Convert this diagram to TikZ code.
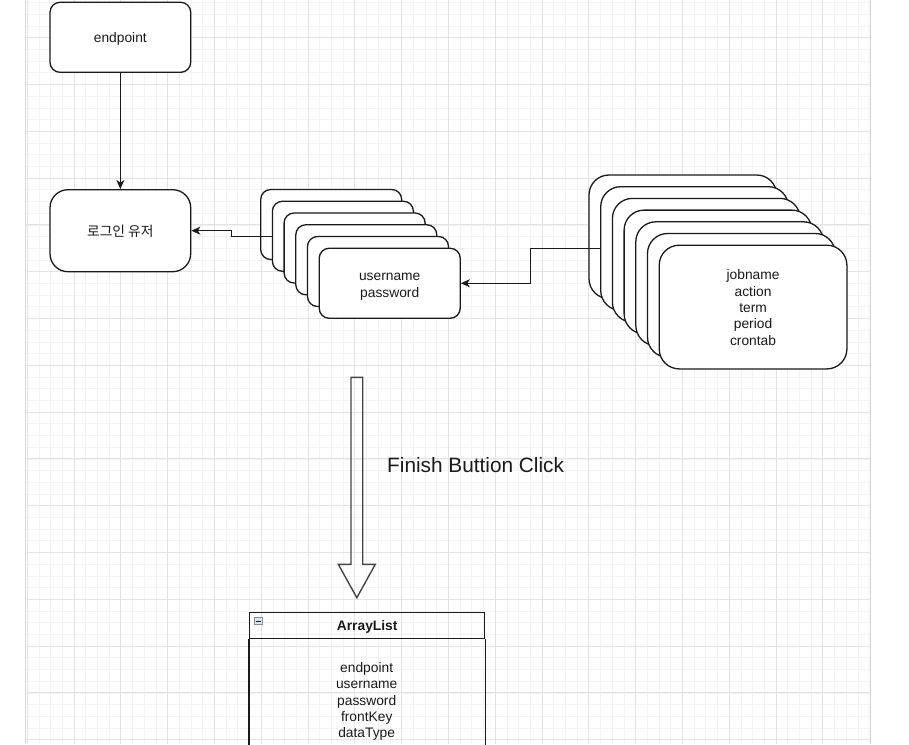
\documentclass[tikz,border=0pt]{standalone}
\usepackage{fontspec}
\setmainfont{Liberation Sans}
\newfontfamily\krfont{Noto Sans CJK KR}
\usetikzlibrary{arrows.meta}
\definecolor{gminor}{HTML}{F3F3F3}
\definecolor{gmajor}{HTML}{E3E3E3}
\definecolor{gborder}{HTML}{D8D8D8}
\definecolor{ink}{HTML}{1A1A1A}
\definecolor{bigarrow}{HTML}{444444}
\definecolor{iconfill}{HTML}{DCE3EA}
\definecolor{iconline}{HTML}{7F8FA0}
\begin{document}
\begin{tikzpicture}[x=1pt,y=-1pt,
  box/.style={draw=ink, line width=1.3pt, fill=white, rounded corners=10pt, text=ink,
    font=\fontsize{13.8}{16.4}\selectfont, align=center, inner sep=0pt},
  arr/.style={draw=ink, line width=1.1pt, -{Stealth[length=9pt,width=8pt,inset=2.5pt]}},
  txt/.style={text=ink, font=\fontsize{13.8}{16.4}\selectfont, align=center, inner sep=0pt}]
\useasboundingbox (0,0) rectangle (909,744);
% grid
\foreach \i in {0,...,72}{\draw[gminor, line width=0.8pt] ({27.2+\i*11.7},0) -- ({27.2+\i*11.7},744);}
\foreach \j in {0,...,63}{\draw[gminor, line width=0.8pt] (25.5,{2.6+\j*11.7}) -- (870.5,{2.6+\j*11.7});}
\foreach \i in {0,...,17}{\draw[gmajor, line width=0.9pt] ({27.2+\i*46.8},0) -- ({27.2+\i*46.8},744);}
\foreach \j in {0,...,15}{\draw[gmajor, line width=0.9pt] (25.5,{37.7+\j*46.8}) -- (870.5,{37.7+\j*46.8});}
\draw[gborder, line width=1pt] (25.5,0) -- (25.5,744);
\draw[gborder, line width=1pt] (870.5,0) -- (870.5,744);

% top-left boxes
\node[box, minimum width=140.7pt, minimum height=70pt] (endpoint) at (120.35,37.3) {};
\node[txt] (endpointt) at ([yshift=-2pt]endpoint.center) {endpoint};
\node[box, rounded corners=18pt, minimum width=140.7pt, minimum height=82pt] (login) at (120.35,230.7) {};
\node[txt] (logint) at ([yshift=-0.8pt]login.center) {\krfont 로그인 유저};

% middle stack
\foreach \k in {0,...,5}{
  \node[box, minimum width=141pt, minimum height=70pt] (m\k) at ({331.2+11.7*\k},{224.5+11.75*\k}) {};
}
\node[txt] (m5t) at ([yshift=-3.5pt]m5.center) {username\\password};

% right stack
\foreach \k in {0,...,6}{
  \node[box, rounded corners=20pt, minimum width=187.7pt, minimum height=123.7pt] (r\k) at ({682.85+11.7*\k},{236.85+11.7*\k}) {};
}
\node[txt] (r6t) at ([yshift=-0.5pt]r6.center) {jobname\\action\\term\\period\\crontab};

% connectors
\draw[arr] (endpoint.south) -- (login.north);
\draw[arr] (m1.west) -- ++(-40.7,0) |- (login.east);
\draw[arr] (r1.west) -- ++(-70,0) |- (m5.east);

% big hollow arrow
\draw[bigarrow, line width=1.4pt, line join=miter] (351,377.3) -- (362.7,377.3) -- (362.7,564.3) -- (375.3,564.3)
  -- (356.85,597.7) -- (338.3,564.3) -- (351,564.3) -- cycle;
\node[anchor=west, text=ink, inner sep=0pt, font=\fontsize{20.8}{25}\selectfont] (finish) at (387,464.8) {Finish Buttion Click};

% ArrayList
\node[draw=ink, line width=1.1pt, minimum width=235.3pt, minimum height=26.6pt, anchor=north west, inner sep=0pt] (alhead) at (249,611.7) {};
\node[text=ink, inner sep=0pt, font=\fontsize{13.8}{16.4}\selectfont\bfseries] (alheadt) at ([yshift=-1pt]alhead.center) {ArrayList};
\draw[ink, line width=1.1pt] (alhead.south west) -- ++(0,140);
\draw[ink, line width=1.1pt] (alhead.south east) -- ++(0,140);
\node[draw=iconline, fill=iconfill, line width=0.6pt, minimum width=8.3pt, minimum height=6.7pt, inner sep=0pt, anchor=north west] (minus) at (253.7,617.3) {};
\draw[ink, line width=0.8pt] ([xshift=1.8pt]minus.west) -- ([xshift=-1.8pt]minus.east);
\node[txt] (albody) at (366.7,701.6) {endpoint\\username\\password\\frontKey\\dataType};
\end{tikzpicture}
\end{document}
